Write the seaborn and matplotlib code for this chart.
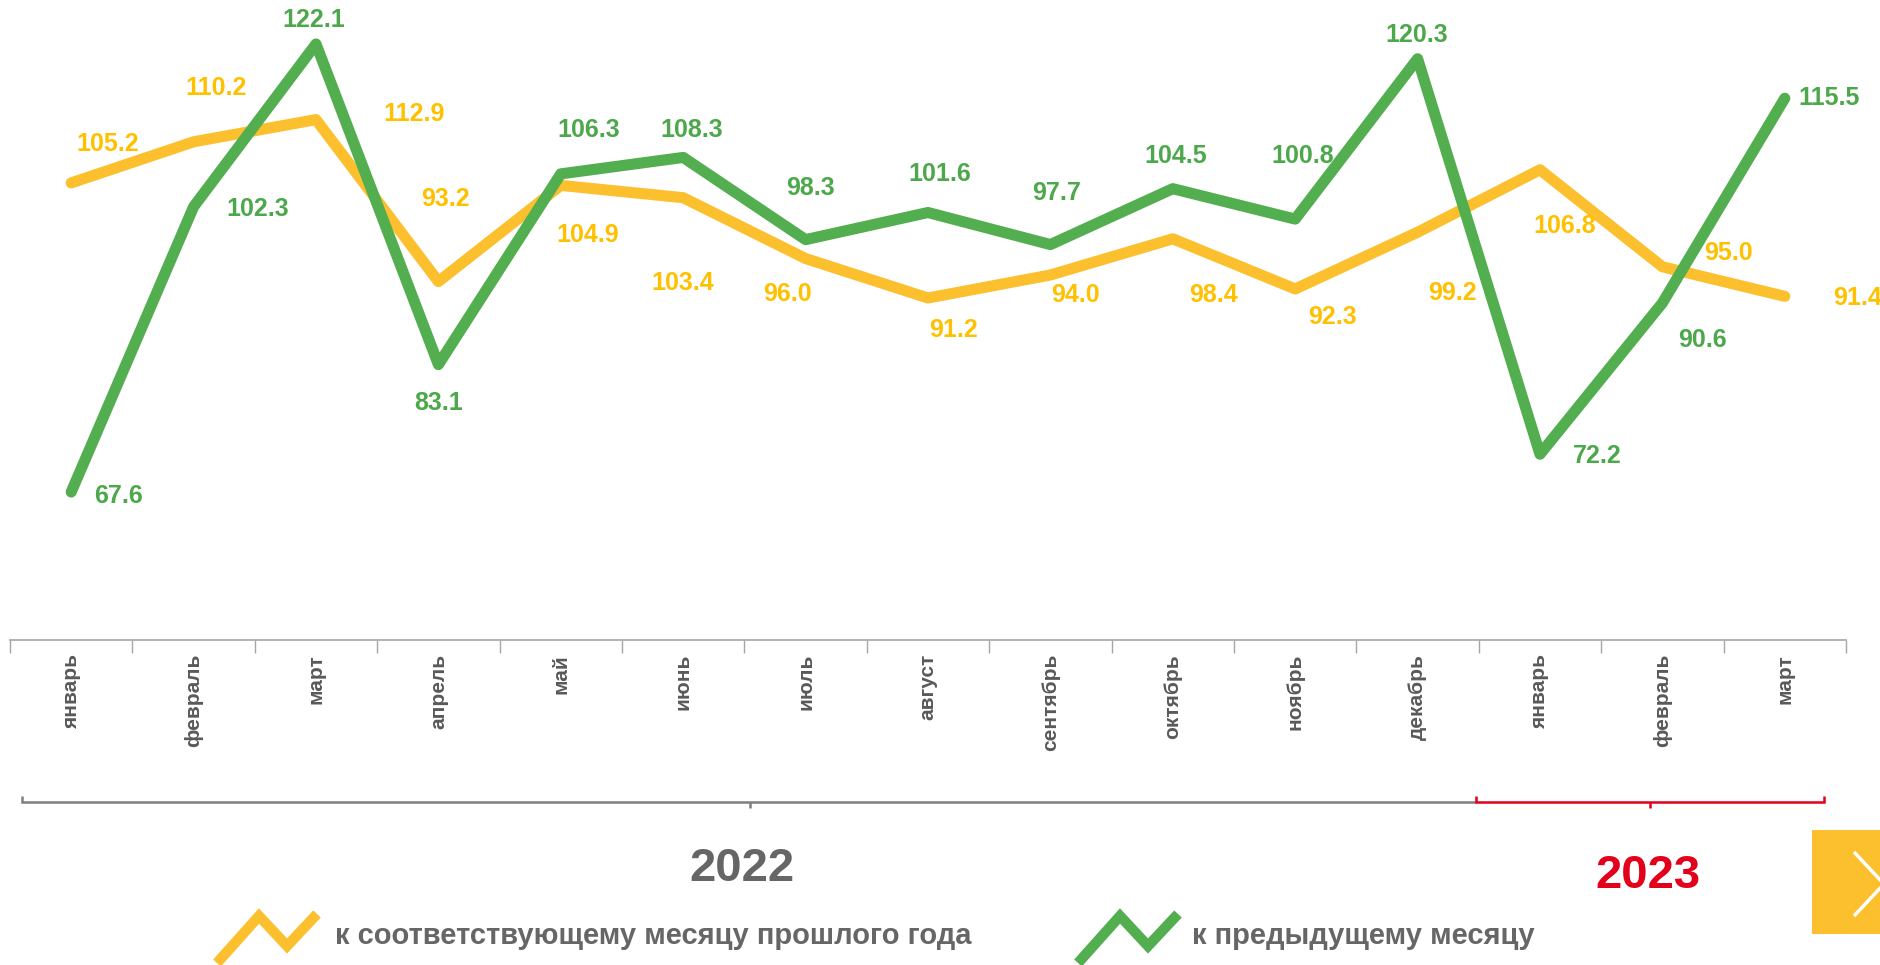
import numpy as np
import pandas as pd
import matplotlib
matplotlib.use('Agg')
import matplotlib.pyplot as plt
from matplotlib.lines import Line2D
from matplotlib.patches import Rectangle
import seaborn as sns

# --- data ---
months = ["январь", "февраль", "март", "апрель", "май", "июнь", "июль", "август",
          "сентябрь", "октябрь", "ноябрь", "декабрь", "январь", "февраль", "март"]
year_on_year = [105.2, 110.2, 112.9, 93.2, 104.9, 103.4, 96.0, 91.2,
                94.0, 98.4, 92.3, 99.2, 106.8, 95.0, 91.4]
month_on_month = [67.6, 102.3, 122.1, 83.1, 106.3, 108.3, 98.3, 101.6,
                  97.7, 104.5, 100.8, 120.3, 72.2, 90.6, 115.5]
series_names = ["к соответствующему месяцу прошлого года", "к предыдущему месяцу"]
years = ["2022", "2023"]

YELLOW = "#FCC02E"
YELLOW_TXT = "#FFC000"
GREEN = "#52AE4F"
GREEN_TXT = "#4CA84A"
GRAY = "#666666"
RED = "#E2001A"

sns.set_style("white")
plt.rcParams["font.family"] = ["Liberation Sans", "DejaVu Sans"]

df = pd.DataFrame({
    "pos": list(range(len(months))) * 2,
    "value": year_on_year + month_on_month,
    "series": [series_names[0]] * len(months) + [series_names[1]] * len(months),
})

W, H = 1881, 965
fig = plt.figure(figsize=(W / 100, H / 100), dpi=100)
ax = fig.add_axes([10 / W, 1 - 640 / H, 1836 / W, 640 / H])

sns.lineplot(data=df, x="pos", y="value", hue="series",
             palette={series_names[0]: YELLOW, series_names[1]: GREEN},
             linewidth=8, legend=False, ax=ax, sort=False)
for ln in ax.lines:
    ln.set_solid_capstyle("round")
    ln.set_solid_joinstyle("round")

ax.set_xlim(-0.5, len(months) - 0.5)
ax.set_ylim(49.6, 127.45)
ax.set_xlabel("")
ax.set_ylabel("")
ax.set_yticks([])

# boundaries as major ticks, labels on minor ticks
ax.set_xticks(np.arange(-0.5, len(months), 1.0))
ax.set_xticklabels([])
ax.tick_params(axis="x", which="major", length=9, width=1, color="#A6A6A6", direction="out", bottom=True)
ax.set_xticks(np.arange(len(months)), minor=True)
ax.set_xticklabels(months, minor=True, rotation=90, va="top", ha="center",
                   fontsize=15, fontweight="bold", color="#595959")
ax.tick_params(axis="x", which="minor", length=0, pad=10)

for s in ["top", "right", "left"]:
    ax.spines[s].set_visible(False)
ax.spines["bottom"].set_color("#A6A6A6")
ax.spines["bottom"].set_linewidth(1.2)

# data labels (offsets in pixels: dx, dy-down)
yoy_off = [(36, -39), (22, -54), (98, -6), (7, -83), (27, 50), (-1, 85), (-18, 35), (26, 32),
           (25, 20), (41, 56), (37, 28), (35, 61), (25, 56), (66, -14), (73, 2)]
mom_off = [(47, 4), (64, 2), (-2, -24), (0, 38), (28, -44), (8, -27), (5, -52), (12, -39),
           (6, -52), (3, -33), (7, -63), (-1, -24), (57, 2), (40, 37), (44, 0)]
for vals, offs, col in [(year_on_year, yoy_off, YELLOW_TXT), (month_on_month, mom_off, GREEN_TXT)]:
    for i, (v, (dx, dy)) in enumerate(zip(vals, offs)):
        ax.annotate(f"{v:.1f}", (i, v), xytext=(dx, -dy), textcoords="offset pixels",
                    ha="center", va="center", fontsize=18, fontweight="bold",
                    color=col, annotation_clip=False)

# year brackets
def fx(px):
    return px / W

def fy(py):
    return 1 - py / H

def seg(xs, ys, color, lw=1.8, cap="butt"):
    fig.add_artist(Line2D([fx(x) for x in xs], [fy(y) for y in ys], color=color,
                          lw=lw, transform=fig.transFigure, solid_capstyle=cap,
                          solid_joinstyle="miter"))

seg([22, 22, 1476], [796, 802, 802], "#7F7F7F")
seg([750, 750], [802, 808], "#7F7F7F")
seg([1476, 1476, 1824, 1824], [796, 802, 802, 796], RED)
seg([1650, 1650], [802, 808], RED)

fig.text(fx(742), fy(869), years[0], ha="center", va="center", fontsize=34,
         fontweight="bold", color=GRAY)
fig.text(fx(1648), fy(876), years[1], ha="center", va="center", fontsize=34,
         fontweight="bold", color=RED)

# legend
def zigzag(x0, color):
    xs = [x0, x0 + 42, x0 + 70, x0 + 100]
    ys = [963, 916, 946, 914]
    seg(xs, ys, color, lw=7.5)

zigzag(217, YELLOW)
fig.text(fx(335), fy(936), series_names[0], ha="left", va="center", fontsize=21,
         fontweight="bold", color=GRAY)
zigzag(1078, GREEN)
fig.text(fx(1192), fy(936), series_names[1], ha="left", va="center", fontsize=21,
         fontweight="bold", color=GRAY)

# next button
fig.add_artist(Rectangle((fx(1812), fy(934)), 69 / W, 104 / H, transform=fig.transFigure,
                         color="#FCC02E", lw=0))
seg([1854, 1884, 1854], [852, 884, 916], "white", lw=2.5)

fig.savefig("out.png", dpi=100)
